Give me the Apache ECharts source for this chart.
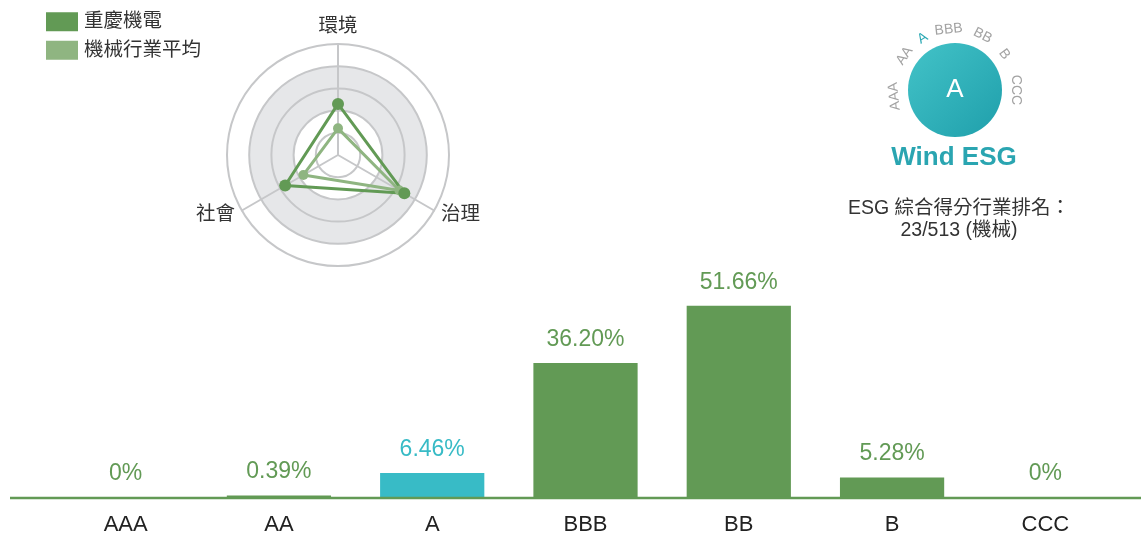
<!DOCTYPE html>
<html>
<head>
<meta charset="utf-8">
<script src="https://cdn.jsdelivr.net/npm/echarts@6/dist/echarts.min.js"></script>
<style>
html,body{margin:0;padding:0;background:#fff;}
#main{width:1141px;height:536px;}
</style>
</head>
<body>
<div id="main"></div>
<script>
// ---- data ----
const ratingCategories = ['AAA', 'AA', 'A', 'BBB', 'BB', 'B', 'CCC'];
const ratingShares = [0, 0.39, 6.46, 36.20, 51.66, 5.28, 0];
const ratingLabels = ['0%', '0.39%', '6.46%', '36.20%', '51.66%', '5.28%', '0%'];
const companyRating = 'A';

const radarIndicators = ['環境', '社會', '治理'];
const companyName = '重慶機電';
const companyScores = [46, 55, 69];
const industryName = '機械行業平均';
const industryScores = [24, 36, 64];

const logoRatings = ['AAA', 'AA', 'A', 'BBB', 'BB', 'B', 'CCC'];
const logoAngles = [186, 146, 122, 96, 63, 36, 0];
const rankTitle = 'ESG 綜合得分行業排名：';
const rankText = '23/513 (機械)';

// ---- colours ----
const GREEN = '#629a55';
const LIGHT_GREEN = '#8fb581';
const TEAL = '#38bbc6';
const FONT = '"Liberation Sans", Arial, "Noto Sans CJK TC", sans-serif';

const chart = echarts.init(document.getElementById('main'));

const barData = ratingShares.map((v, i) => {
  const hl = ratingCategories[i] === companyRating;
  return {
    value: v,
    itemStyle: { color: hl ? TEAL : GREEN },
    label: { color: hl ? TEAL : GREEN }
  };
});

// logo arc letters
const logoCx = 955, logoCy = 90, arcR = 61;
const logoGraphics = logoRatings.map((t, i) => {
  const a = logoAngles[i] * Math.PI / 180;
  return {
    type: 'text',
    x: logoCx + arcR * Math.cos(a),
    y: logoCy - arcR * Math.sin(a),
    rotation: a - Math.PI / 2,
    style: {
      text: t,
      fill: t === companyRating ? '#2ca9b4' : '#a3a3a3',
      font: '14px ' + FONT,
      align: 'center',
      verticalAlign: 'middle'
    }
  };
});

const option = {
  animation: false,
  backgroundColor: '#fff',
  textStyle: { fontFamily: FONT },
  legend: {
    orient: 'vertical',
    left: 41,
    top: 7,
    itemWidth: 32,
    itemHeight: 19,
    itemGap: 9,
    icon: 'rect',
    data: [companyName, industryName],
    textStyle: { fontSize: 19.5, color: '#333', fontFamily: FONT, padding: [0, 0, 0, 1] }
  },
  radar: {
    center: [338, 155],
    radius: 111,
    shape: 'circle',
    splitNumber: 5,
    startAngle: 90,
    indicator: radarIndicators.map(n => ({ name: n, max: 100 })),
    axisName: { color: '#333', fontSize: 19.5, fontFamily: FONT },
    nameGap: 8,
    splitLine: { lineStyle: { color: '#c6c7c9', width: 2 } },
    axisLine: { lineStyle: { color: '#c6c7c9', width: 2 } },
    splitArea: { show: true, areaStyle: { color: ['#ffffff', '#ffffff', '#e6e7e9', '#e6e7e9', '#ffffff'] } }
  },
  grid: { left: 49, right: 19, top: 260, bottom: 38 },
  xAxis: {
    type: 'category',
    data: ratingCategories,
    axisLine: { show: false },
    axisTick: { show: false },
    axisLabel: { color: '#222', fontSize: 22, margin: 17, fontFamily: FONT }
  },
  yAxis: {
    type: 'value', min: 0, max: 64, show: false,
    splitLine: { show: false }
  },
  series: [
    {
      type: 'radar',
      symbol: 'circle',
      z: 3,
      data: [
        {
          name: industryName,
          value: industryScores,
          symbolSize: 10,
          itemStyle: { color: LIGHT_GREEN },
          lineStyle: { color: LIGHT_GREEN, width: 3 }
        },
        {
          name: companyName,
          value: companyScores,
          symbolSize: 12,
          itemStyle: { color: GREEN },
          lineStyle: { color: GREEN, width: 3 }
        }
      ]
    },
    {
      type: 'bar',
      data: barData,
      barWidth: '68%',
      label: {
        show: true,
        position: 'top',
        distance: 12,
        fontSize: 23,
        fontFamily: FONT,
        formatter: p => ratingLabels[p.dataIndex]
      }
    }
  ],
  graphic: [
    {
      type: 'line',
      z: 10,
      shape: { x1: 10, y1: 498, x2: 1141, y2: 498 },
      style: { stroke: GREEN, lineWidth: 2.5 }
    },
    {
      type: 'circle',
      shape: { cx: logoCx, cy: logoCy, r: 47 },
      style: {
        fill: new echarts.graphic.LinearGradient(0, 0, 1, 1, [
          { offset: 0, color: '#43c3c8' },
          { offset: 1, color: '#1f9fab' }
        ])
      }
    },
    {
      type: 'text',
      x: logoCx, y: logoCy,
      style: { text: 'A', fill: '#fff', font: '26px ' + FONT, align: 'center', verticalAlign: 'middle' }
    },
    ...logoGraphics,
    {
      type: 'text',
      x: 954, y: 158,
      style: { text: 'Wind ESG', fill: '#2aa5b1', font: 'bold 26px ' + FONT, align: 'center', verticalAlign: 'middle' }
    },
    {
      type: 'text',
      x: 959, y: 209,
      style: { text: rankTitle, fill: '#333', font: '19.5px ' + FONT, align: 'center', verticalAlign: 'middle' }
    },
    {
      type: 'text',
      x: 959, y: 231,
      style: { text: rankText, fill: '#333', font: '19.5px ' + FONT, align: 'center', verticalAlign: 'middle' }
    }
  ]
};

chart.setOption(option);
</script>
</body>
</html>
